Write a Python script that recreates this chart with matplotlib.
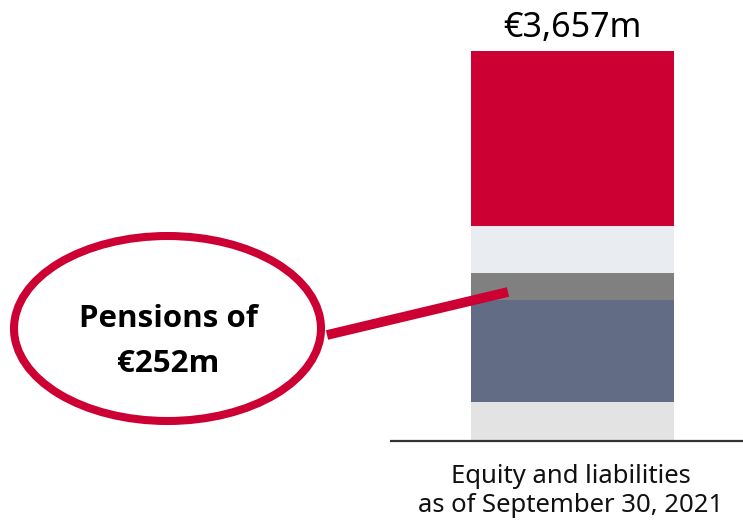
import matplotlib
matplotlib.use("Agg")
import matplotlib.pyplot as plt
from matplotlib.patches import Ellipse

plt.rcParams['font.family'] = ['Noto Sans', 'DejaVu Sans']

# Data
category = "Equity and liabilities\nas of September 30, 2021"
segment_names = ["Other (bottom)", "Liabilities", "Pensions", "Other", "Equity"]
segment_values = [369, 956, 252, 441, 1639]  # in € million, total 3,657
segment_colors = ["#E3E3E3", "#636C85", "#808080", "#E9EDF2", "#CC0033"]
total_label = "€3,657m"
callout_lines = ["Pensions of", "€252m"]

W, H = 743, 521
fig = plt.figure(figsize=(W / 100, H / 100), dpi=100)

# Bar axes: whole figure, x in pixel-like units, y in € million
ax = fig.add_axes([0, 0, 1, 1])
total = sum(segment_values)
scale = total / (441 - 51)  # value per pixel
ax.set_xlim(0, W)
ax.set_ylim(-(H - 441) * scale, 441 * scale)
ax.axis("off")

bar_x = 572.5
bar_w = 203
bottom = 0
for v, c in zip(segment_values, segment_colors):
    ax.bar(bar_x, v, width=bar_w, bottom=bottom, color=c, linewidth=0, zorder=2)
    bottom += v

# Baseline
ax.plot([390, W], [0, 0], color="#333333", linewidth=1.6, zorder=3, solid_capstyle="butt")

# Total label
ax.text(bar_x, total + 14 * scale, total_label, ha="center", va="baseline",
        fontsize=24.5, color="black")

# Category label
ax.text(bar_x - 2, -23 * scale, category, ha="center", va="top", fontsize=18.5,
        color="#111111", linespacing=1.22)

# Annotation overlay in pixel coordinates
ov = fig.add_axes([0, 0, 1, 1], zorder=5)
ov.set_xlim(0, W)
ov.set_ylim(H, 0)
ov.axis("off")
ov.patch.set_alpha(0)

ov.add_patch(Ellipse((167.5, 328.5), 307, 185, facecolor="white",
                     edgecolor="#CC0033", linewidth=5.8))
ov.plot([327, 508], [335, 292], color="#CC0033", linewidth=7, solid_capstyle="butt")
for line, yb in zip(callout_lines, [327, 372]):
    ov.text(168, yb, line, ha="center", va="baseline", fontsize=22.5,
            fontweight="bold", family=["Open Sans", "Lato", "DejaVu Sans"],
            color="black")

fig.savefig("out.png", dpi=100)
